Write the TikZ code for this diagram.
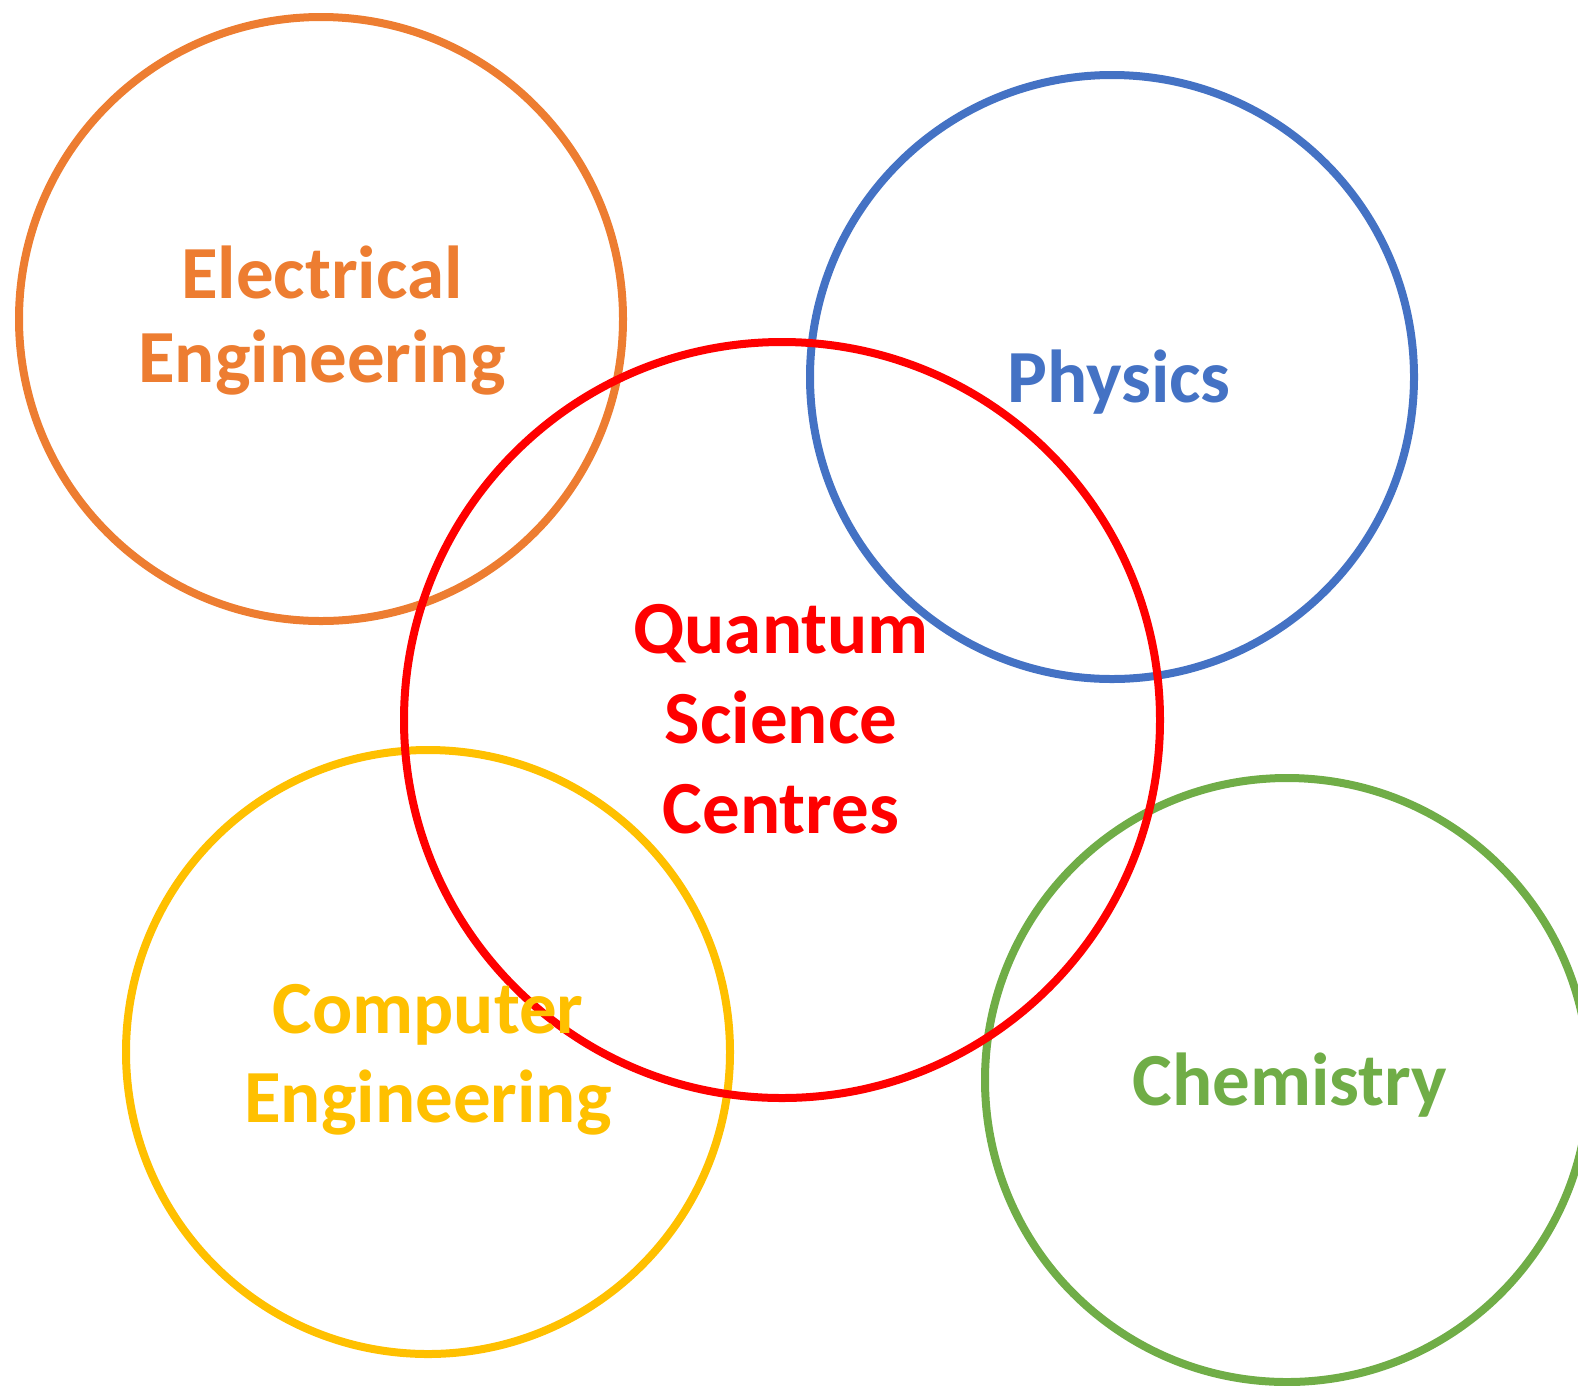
\documentclass[tikz,border=0pt]{standalone}
\usepackage{fontspec}
\setmainfont{Carlito}
\definecolor{cOrange}{HTML}{ED7D31}
\definecolor{cBlue}{HTML}{4472C4}
\definecolor{cRed}{HTML}{FF0000}
\definecolor{cYellow}{HTML}{FFC000}
\definecolor{cGreen}{HTML}{70AD47}
\begin{document}
\begin{tikzpicture}[x=1pt,y=-1pt,
  ring/.style={line width=8pt},
  lbl/.style={font=\bfseries\fontsize{75}{84}\selectfont, align=center, inner sep=0pt, anchor=base}]
\useasboundingbox (0,0) rectangle (1578,1385);
\clip (0,0) rectangle (1578,1385);
\draw[ring, cOrange] (321,319) circle[radius=302];
\draw[ring, cBlue] (1112,377) circle[radius=302];
\draw[ring, cYellow] (428,1052) circle[radius=302];
\draw[ring, cGreen] (1287,1080) circle[radius=302];
\draw[ring, cRed] (782,720) circle[radius=378];
\node[lbl, text=cOrange] (ee) at (322,382) {Electrical\\Engineering};
\node[lbl, text=cBlue] (ph) at (1119,402) {Physics};
\node[lbl, text=cRed, font=\bfseries\fontsize{75}{90}\selectfont] (qs) at (781,833) {Quantum\\Science\\Centres};
\node[lbl, text=cYellow, font=\bfseries\fontsize{75}{89}\selectfont] (ce) at (428,1122) {Computer\\Engineering};
\node[lbl, text=cGreen] (ch) at (1290,1105) {Chemistry};
\end{tikzpicture}
\end{document}
